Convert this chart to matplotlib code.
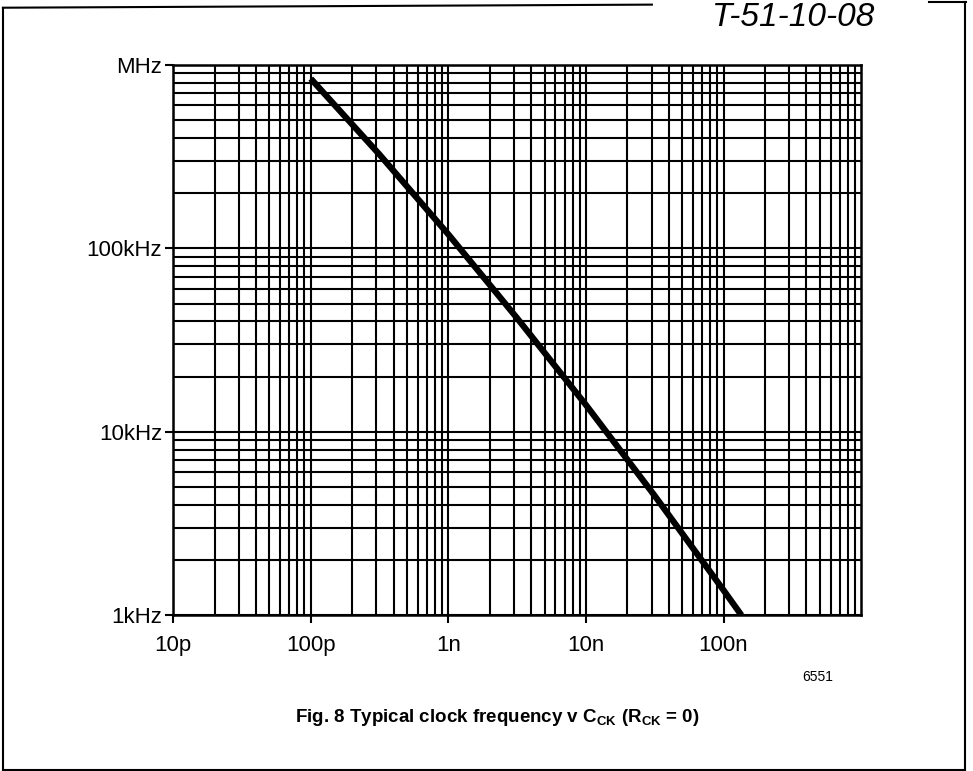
import matplotlib
matplotlib.use("Agg")
import matplotlib.pyplot as plt
from matplotlib.lines import Line2D
from matplotlib.ticker import FixedLocator, NullFormatter

# Typical clock frequency vs C_CK
cap_farad = [1.0e-10, 3.16e-10, 1.0e-9, 3.16e-9, 1.0e-8, 3.16e-8, 1.0e-7, 1.35e-7]
freq_hz = [8.4e5, 3.24e5, 1.19e5, 4.16e4, 1.40e4, 4.48e3, 1.37e3, 1.0e3]

x_ticks = [1e-11, 1e-10, 1e-9, 1e-8, 1e-7]
x_labels = ["10p", "100p", "1n", "10n", "100n"]
y_ticks = [1e3, 1e4, 1e5, 1e6]
y_labels = ["1kHz", "10kHz", "100kHz", "MHz"]

plt.rcParams['font.family'] = ['Liberation Sans', 'DejaVu Sans']
plt.rcParams['mathtext.fontset'] = 'custom'
plt.rcParams['mathtext.rm'] = 'Liberation Sans'
plt.rcParams['mathtext.bf'] = 'Liberation Sans:bold'

fig = plt.figure(figsize=(9.73, 7.71), dpi=100)
ax = fig.add_axes([0.178, 0.202, 0.707, 0.714])

ax.set_xscale('log')
ax.set_yscale('log')
ax.set_xlim(1e-11, 1e-6)
ax.set_ylim(1e3, 1e6)

# full log grid, majors and minors drawn alike
minor_x = [m * 10.0 ** e for e in range(-11, -6) for m in range(2, 10)]
minor_y = [m * 10.0 ** e for e in range(3, 6) for m in range(2, 10)]
ax.xaxis.set_major_locator(FixedLocator(x_ticks))
ax.yaxis.set_major_locator(FixedLocator(y_ticks))
ax.xaxis.set_minor_locator(FixedLocator(minor_x))
ax.yaxis.set_minor_locator(FixedLocator(minor_y))
ax.xaxis.set_minor_formatter(NullFormatter())
ax.yaxis.set_minor_formatter(NullFormatter())
ax.set_xticklabels(x_labels)
ax.set_yticklabels(y_labels)
ax.grid(which='both', color='black', linewidth=1.5)
ax.tick_params(which='major', direction='out', length=6, width=1.5,
               labelsize=16, color='black')
ax.tick_params(axis='x', which='major', pad=8)
ax.tick_params(axis='y', which='major', pad=2)
ax.tick_params(which='minor', length=0)
for s in ax.spines.values():
    s.set_linewidth(1.8)

ax.plot(cap_farad, freq_hz, color='black', linewidth=4.5,
        solid_capstyle='butt', solid_joinstyle='round', zorder=5)

fig.text(0.511, 0.069,
         r"Fig. 8 Typical clock frequency v C$_{\mathbf{CK}}$ (R$_{\mathbf{CK}}$ = 0)",
         ha='center', va='center', fontsize=13.5, fontweight='bold')
fig.text(0.84, 0.122, "6551", ha='center', va='center', fontsize=10)
fig.text(0.815, 0.997, "T-51-10-08", ha='center', va='top', fontsize=24,
         fontstyle='italic')

# page frame of the scanned sheet
frame = [([0.003, 0.003], [0.0, 0.99]),
         ([0.003, 0.67], [0.99, 0.994]),
         ([0.955, 0.993], [0.998, 0.998]),
         ([0.992, 0.992], [0.0, 0.998]),
         ([0.003, 0.992], [0.001, 0.001])]
for xs, ys in frame:
    fig.add_artist(Line2D(xs, ys, color='black', linewidth=1.5,
                          transform=fig.transFigure))

fig.savefig("out.png", dpi=100)
